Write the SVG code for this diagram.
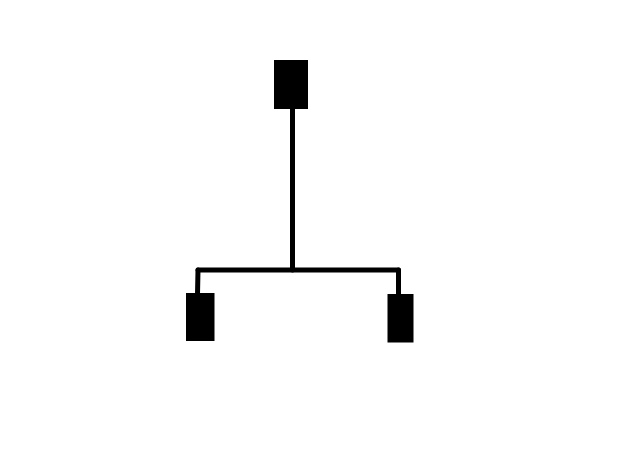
<svg xmlns="http://www.w3.org/2000/svg" width="640" height="472" viewBox="0 0 640 472">
<style>
.node{fill:#000}
.conn{stroke:#000;stroke-width:5;fill:none;stroke-linecap:round;stroke-linejoin:round}
</style>
<rect width="640" height="472" fill="#fff"/>
<g id="connectors">
<path class="conn" d="M292.5,108 V270"/>
<path class="conn" d="M198,270 H398.5"/>
<path class="conn" d="M198,270 L197.5,294"/>
<path class="conn" d="M398.5,270 V295"/>
</g>
<g id="node-top"><rect class="node" x="274" y="60" width="34" height="49"/></g>
<g id="node-left"><rect class="node" x="186" y="293" width="28.5" height="48"/></g>
<g id="node-right"><rect class="node" x="387.5" y="294" width="26" height="48.5"/></g>
</svg>
